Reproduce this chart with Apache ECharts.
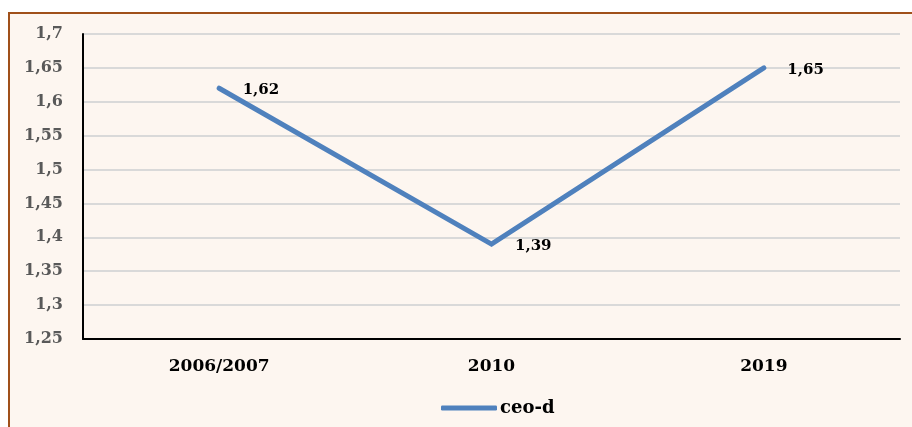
<!DOCTYPE html>
<html>
<head>
<meta charset="utf-8">
<script src="https://cdn.jsdelivr.net/npm/echarts@6/dist/echarts.min.js"></script>
<style>
	html, body { margin: 0; padding: 0; background: #fff; overflow: hidden; }
	#chart {
		position: absolute; left: 8px; top: 12px;
		width: 920px; height: 430px;
		border: 2px solid #a0501a;
		background: #fdf6f0;
	}
</style>
</head>
<body>
<div id="chart"></div>
<script>
	const categories = ['2006/2007', '2010', '2019'];
	const ceoD = [1.62, 1.39, 1.65];
	const yMin = 1.25, yMax = 1.7, yStep = 0.05;

	const fmt = v => String(Math.round(v * 100) / 100).replace('.', ',');
	const font = 'DejaVu Serif';

	var chart = echarts.init(document.getElementById('chart'));

	option = {
		backgroundColor: 'transparent',
		animation: false,
		grid: {
			left: 73,
			top: 20,
			width: 817,
			height: 305
		},
		legend: {
			data: ['ceo-d'],
			left: 426,
			top: 380,
			itemWidth: 56,
			itemHeight: 5,
			itemGap: 4,
			icon: 'roundRect',
			textStyle: {
				color: '#000',
				fontFamily: font,
				fontWeight: 'bold',
				fontSize: 18,
				padding: [0, 0, 0, -2]
			}
		},
		xAxis: {
			type: 'category',
			data: categories,
			axisTick: { show: false },
			axisLine: { lineStyle: { color: '#000', width: 2 } },
			axisLabel: {
				color: '#000',
				fontFamily: font,
				fontWeight: 'bold',
				fontSize: 17,
				margin: 19
			}
		},
		yAxis: {
			type: 'value',
			min: yMin,
			max: yMax,
			interval: yStep,
			axisLine: { show: true, lineStyle: { color: '#000', width: 2 } },
			axisTick: { show: false },
			splitLine: { lineStyle: { color: '#d9d9d9', width: 2 } },
			axisLabel: {
				color: '#595959',
				fontFamily: font,
				fontWeight: 'bold',
				fontSize: 16,
				margin: 20,
				formatter: fmt
			}
		},
		series: [{
			name: 'ceo-d',
			type: 'line',
			data: ceoD,
			symbol: 'circle',
			symbolSize: 1,
			lineStyle: { color: '#4f81bd', width: 5, cap: 'round', join: 'miter' },
			itemStyle: { color: '#4f81bd' },
			label: {
				show: true,
				position: 'right',
				distance: 22,
				offset: [1, 2],
				color: '#000',
				fontFamily: font,
				fontWeight: 'bold',
				fontSize: 15,
				formatter: p => fmt(p.value)
			}
		}]
	};

	chart.setOption(option);

	window.onresize = function() {
		chart.resize();
	}
</script>
</body>
</html>
